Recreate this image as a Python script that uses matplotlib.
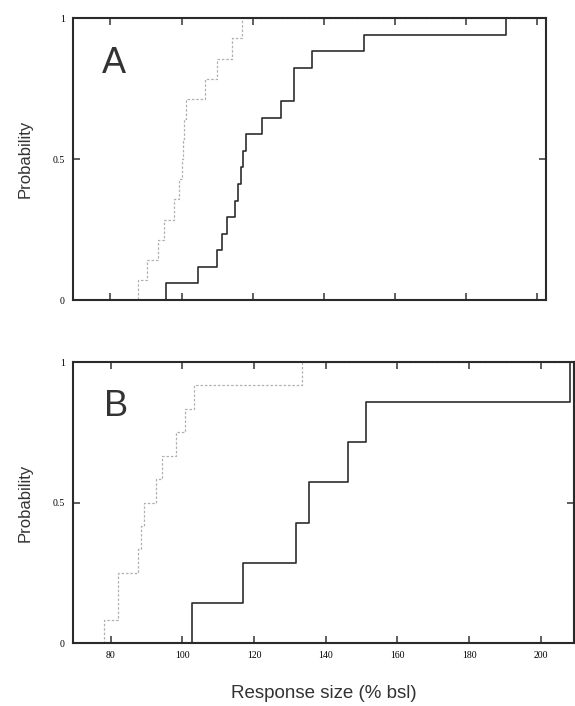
import numpy as np
import matplotlib
matplotlib.use("Agg")
import matplotlib.pyplot as plt

# response sizes (% bsl) in each panel
a_light = [87.8, 90.3, 93.3, 95.1, 97.9, 99.3, 100.0, 100.4, 100.8, 101.2,
           106.5, 110.1, 114.3, 117.1]
a_dark = [95.6, 104.5, 110.1, 111.5, 112.9, 115.0, 115.8, 116.6, 117.4, 118.1,
          122.7, 127.9, 131.6, 131.6, 136.6, 151.3, 191.1]
b_light = [78.1, 82.1, 82.1, 87.7, 88.4, 89.3, 92.6, 94.2, 98.2, 100.8, 103.3,
           133.5]
b_dark = [102.8, 117.0, 131.7, 135.4, 146.1, 151.3, 208.1]

xticks = [80, 100, 120, 140, 160, 180, 200]
yticks = [0, 0.5, 1]
ytick_labels = ["0", "0.5", "1"]

fig = plt.figure(figsize=(5.75, 7.06), dpi=100)
axA = fig.add_axes([0.127, 0.575, 0.823, 0.399])
axB = fig.add_axes([0.127, 0.0892, 0.871, 0.398])


def ecdf(ax, vals, lo, hi, **kw):
    v = np.sort(np.asarray(vals, dtype=float))
    n = len(v)
    x = np.concatenate([[lo], v, [hi]])
    y = np.concatenate([[0], np.arange(1, n + 1) / n, [1]])
    ax.step(x, y, where="post", **kw)


for ax, light, dark, lim, letter in [
    (axA, a_light, a_dark, (69.5, 202.5), "A"),
    (axB, b_light, b_dark, (69.5, 209.2), "B"),
]:
    ecdf(ax, light, lim[0], lim[1], color="#b0b0b0", lw=0.9, ls=(0, (2, 1.5)))
    ecdf(ax, dark, lim[0], lim[1], color="#2e2e2e", lw=1.2)
    ax.set_xlim(*lim)
    ax.set_ylim(0, 1)
    ax.set_xticks(xticks)
    ax.set_yticks(yticks)
    ax.set_yticklabels(ytick_labels, family="Liberation Serif", fontsize=7)
    ax.tick_params(direction="in", top=True, right=True, length=5, width=1.1,
                   color="#333333", pad=6)
    for s in ax.spines.values():
        s.set_linewidth(1.5)
        s.set_color("#2a2a2a")
    ax.text(0.061, 0.84, letter, transform=ax.transAxes, fontsize=26,
            family="Liberation Sans", color="#333333", va="center", ha="left")
    ax.set_ylabel("Probability", family="Liberation Sans", fontsize=12,
                  color="#333333", labelpad=14)

axA.set_xticklabels([])
axB.set_xticklabels([str(t) for t in xticks], family="Liberation Serif",
                    fontsize=7)
axB.set_xlabel("Response size (% bsl)", family="Liberation Sans", fontsize=13.5,
               color="#333333", labelpad=18)

fig.savefig("out.png", dpi=100)
